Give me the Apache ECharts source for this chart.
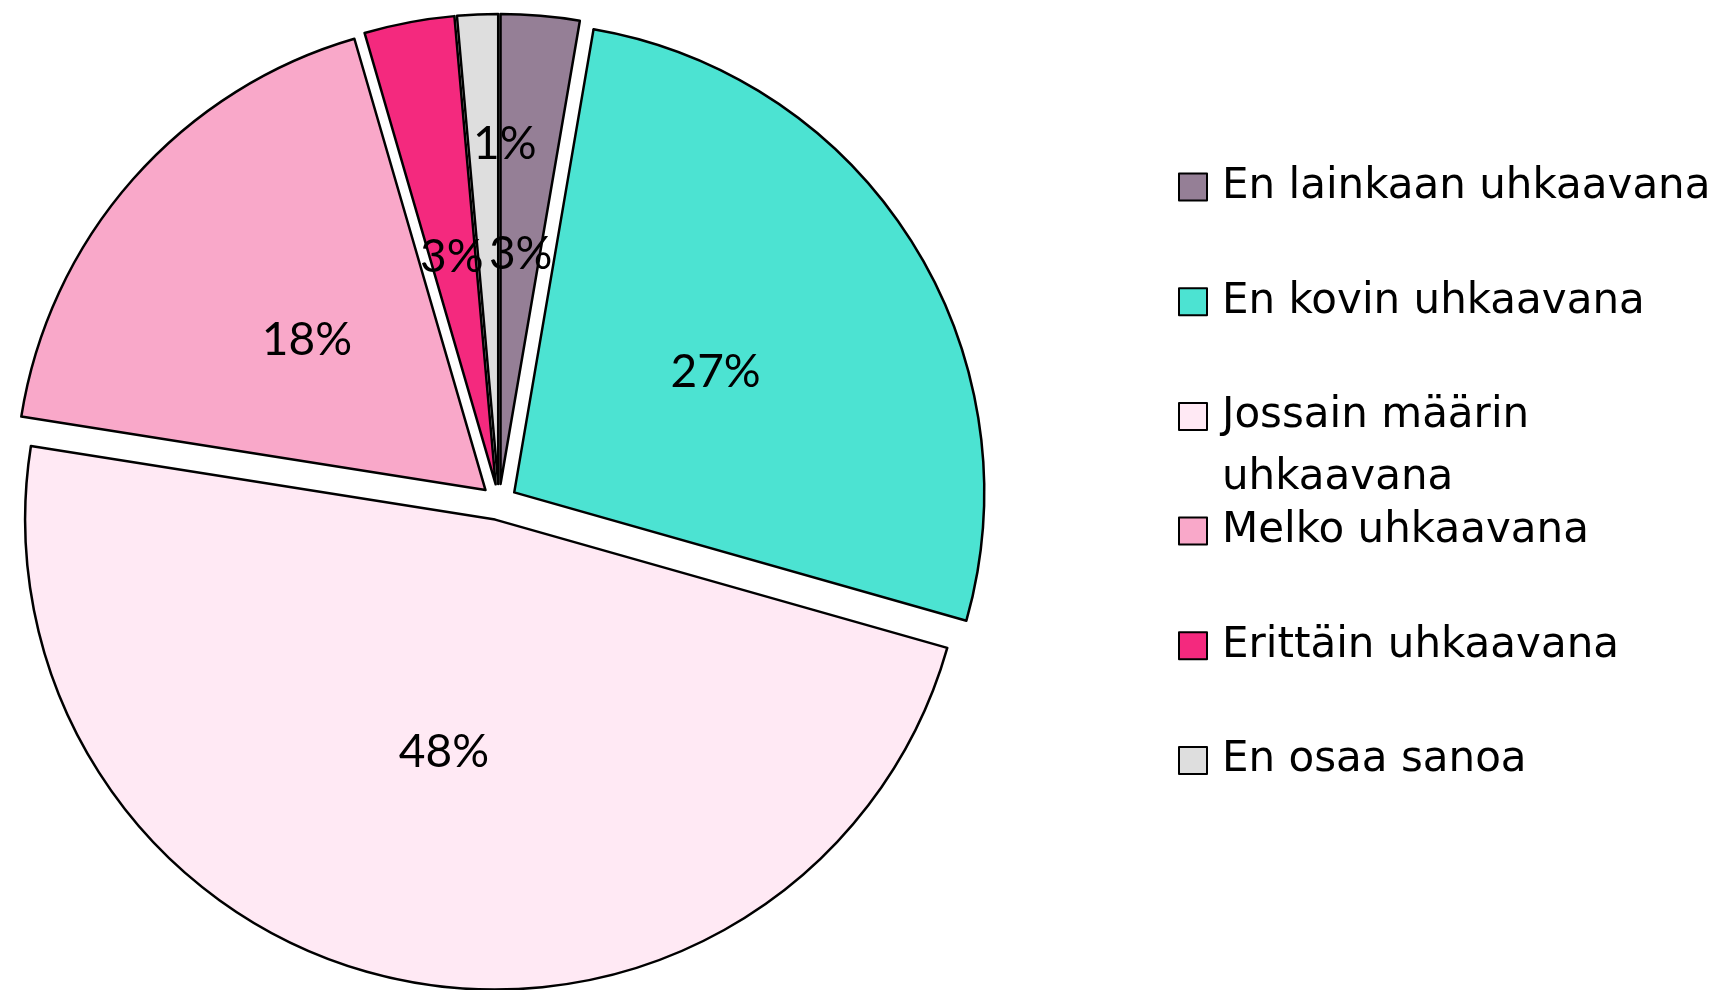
<!DOCTYPE html>
<html>
<head>
<meta charset="utf-8">
<script src="https://cdn.jsdelivr.net/npm/echarts@6/dist/echarts.min.js"></script>
<style>
  html, body { margin: 0; padding: 0; background: #fff; }
  #chart { width: 1730px; height: 990px; }
</style>
</head>
<body>
<div id="chart"></div>
<script>
// categories and shares (percent)
const categories = ['En lainkaan uhkaavana', 'En kovin uhkaavana', 'Jossain määrin uhkaavana', 'Melko uhkaavana', 'Erittäin uhkaavana', 'En osaa sanoa'];
const shares = [2.7, 26.7, 48.1, 18.0, 3.1, 1.4];
const colors = ['#957f96', '#4ce3d2', '#ffe9f4', '#f9a8c9', '#f4297e', '#dedede'];

const chart = echarts.init(document.getElementById('chart'));

const WRAPPED = 'Jossain määrin uhkaavana';
// one legend per item so the wrapped label doesn't push the rest down
const legends = categories.map((name, i) => {
  const wrapped = name === WRAPPED;
  const lines = wrapped ? 3 : 1;
  const lh = wrapped ? 62 : 57;
  const cy = 187 + i * 114.7;
  return {
    orient: 'vertical',
    left: 1173,
    top: cy - 5 - lines * lh / 2,
    itemWidth: 28,
    itemHeight: 27,
    icon: 'rect',
    selectedMode: false,
    data: [name],
    // empty first line keeps "Jossain määrin" level with the swatch
    formatter: n => n === WRAPPED ? '\nJossain määrin\nuhkaavana' : n,
    textStyle: { fontFamily: 'DejaVu Sans', fontSize: 42, color: '#000', lineHeight: lh, padding: [0, 0, 0, 10] }
  };
});

chart.setOption({
  backgroundColor: '#fff',
  animation: false,
  legend: legends,
  series: [{
    type: 'pie',
    center: [499, 502],
    radius: 470,
    startAngle: 90,
    clockwise: true,
    selectedMode: 'multiple',
    selectedOffset: 18,
    emphasis: { disabled: true },
    itemStyle: { borderColor: '#000', borderWidth: 2.5 },
    label: {
      position: 'inside',
      fontFamily: 'Lato',
      fontSize: 46,
      color: '#000',
      formatter: p => Math.round(p.value) + '%'
    },
    labelLine: { show: false },
    labelLayout: p => {
      if (p.dataIndex === 5) return { dx: 17, dy: -102, hideOverlap: false };
      if (p.dataIndex === 2) return { hideOverlap: false };
      return { dy: 7, hideOverlap: false };
    },
    data: categories.map((name, i) => ({
      name, value: shares[i], selected: true, itemStyle: { color: colors[i] }
    }))
  }]
});
</script>
</body>
</html>
